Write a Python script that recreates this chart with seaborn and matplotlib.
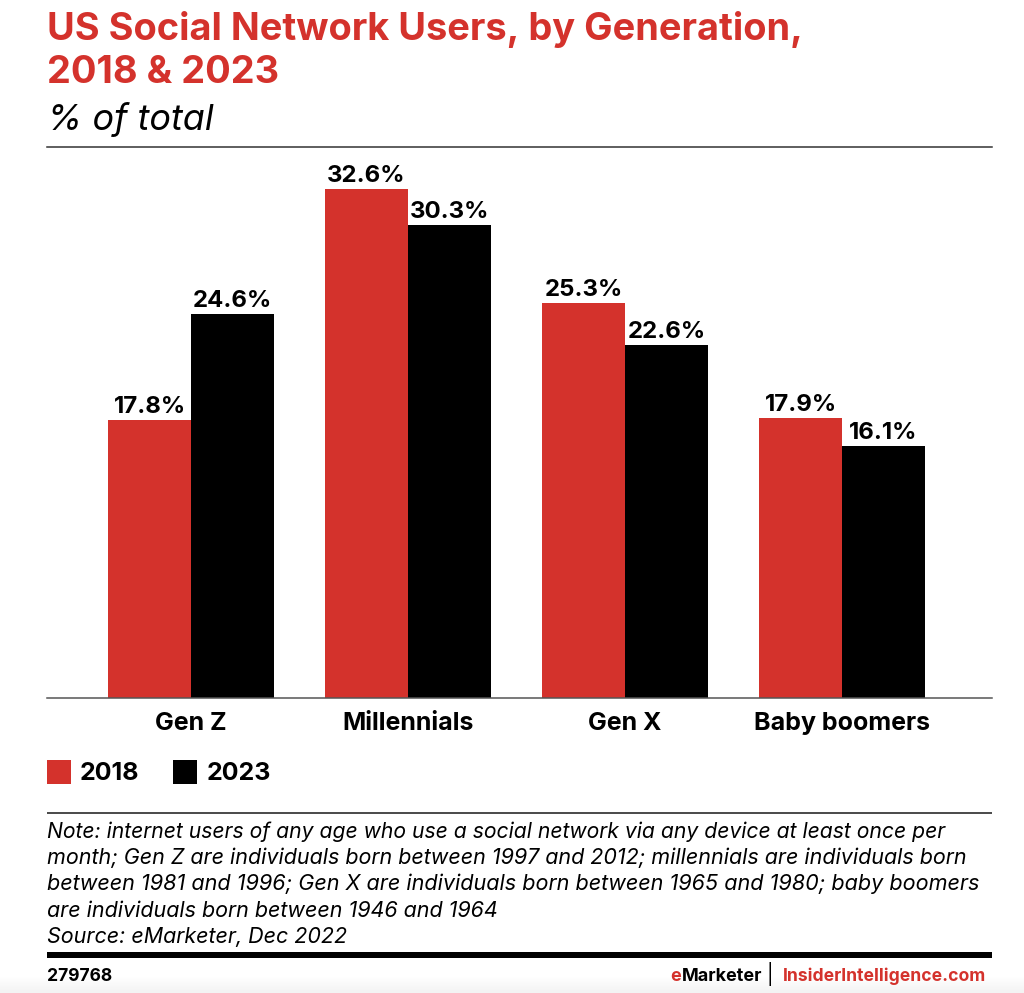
import numpy as np
import pandas as pd
import matplotlib
matplotlib.use('Agg')
import matplotlib.pyplot as plt
from matplotlib.lines import Line2D
import seaborn as sns

W, H = 1024, 993
RED = '#d4322c'

generations = ['Gen Z', 'Millennials', 'Gen X', 'Baby boomers']
values_2018 = [17.8, 32.6, 25.3, 17.9]
values_2023 = [24.6, 30.3, 22.6, 16.1]

title_lines = ['US Social Network Users, by Generation,', '2018 & 2023']
subtitle = '% of total'
note_lines = [
    'Note: internet users of any age who use a social network via any device at least once per',
    'month; Gen Z are individuals born between 1997 and 2012; millennials are individuals born',
    'between 1981 and 1996; Gen X are individuals born between 1965 and 1980; baby boomers',
    'are individuals born between 1946 and 1964',
    'Source: eMarketer, Dec 2022',
]
note_sizes = [21.15, 21.5, 21.6, 21.5, 21.5]

df = pd.DataFrame({
    'generation': generations * 2,
    'year': ['2018'] * 4 + ['2023'] * 4,
    'share': values_2018 + values_2023,
})

sns.set_theme(style='white')
plt.rcParams['font.family'] = ['Inter', 'DejaVu Sans']

fig = plt.figure(figsize=(W / 100, H / 100), dpi=100, facecolor='white')


def px(x, y):
    # pixel position in the picture -> figure fraction
    return x / W, 1 - y / H


def pt(size):
    return size * 0.72


def put(x, y, s, size, **kw):
    fx, fy = px(x, y)
    kw.setdefault('color', 'black')
    kw.setdefault('va', 'baseline')
    return fig.text(fx, fy, s, fontsize=pt(size), **kw)


def rule(y, lw, color='#222222', x0=47, x1=992):
    fig.add_artist(Line2D([x0 / W, x1 / W], [1 - y / H] * 2, color=color, lw=lw * 0.72,
                          solid_capstyle='butt'))


# faint grey fade along the bottom edge of the screenshot
bg = fig.add_axes([0, 0, 1, 18 / H], zorder=-1)
bg.imshow(np.linspace(1.0, 0.95, 18).reshape(-1, 1), cmap='gray', vmin=0, vmax=1, aspect='auto')
bg.axis('off')

ax = fig.add_axes([47 / W, 1 - 698 / H, 945 / W, 551 / H])
sns.barplot(data=df, x='generation', y='share', hue='year', order=generations,
            palette={'2018': RED, '2023': 'black'}, saturation=1, width=0.765, gap=0,
            linewidth=0, ax=ax)
ax.set_xlim(-0.6636, 3.691)
ax.set_ylim(0, 35.27)
ax.set_xlabel('')
ax.set_ylabel('')
ax.set_yticks([])
ax.tick_params(axis='x', length=0, pad=10)
for lab in ax.get_xticklabels():
    lab.set_fontsize(pt(25))
    lab.set_fontweight('bold')
    lab.set_color('black')

for side in ['left', 'right']:
    ax.spines[side].set_visible(False)
ax.spines['bottom'].set_color('#555555')
ax.spines['bottom'].set_linewidth(1.1)
ax.spines['top'].set_color('#333333')
ax.spines['top'].set_linewidth(1.1)

for cont in ax.containers:
    ax.bar_label(cont, fmt='%.1f%%', padding=1.5, fontsize=pt(24), fontweight='bold', color='black')

leg = ax.legend(loc='upper left', bbox_to_anchor=px(47, 760), bbox_transform=fig.transFigure,
                ncol=2, frameon=False, prop={'weight': 'bold', 'size': pt(25)},
                labelcolor='black', handlelength=0.96, handleheight=1.1, handletextpad=0.36,
                columnspacing=1.35, borderpad=0, borderaxespad=0)

for i, line in enumerate(title_lines):
    put(47, 40 + i * 43, line, 38, color=RED, fontweight='bold')
put(47, 130, subtitle, 36, style='italic')

rule(813, 1.6)
for i, line in enumerate(note_lines):
    put(47, 838 + i * 26.2, line, note_sizes[i], style='italic')

rule(955, 6, color='black')
put(47, 981, '279768', 17.5, fontweight='bold')
put(986, 981, 'InsiderIntelligence.com', 17.5, color=RED, fontweight='bold', ha='right')
put(770, 981, '|', 20, ha='center')
put(762, 981, 'Marketer', 18, fontweight='bold', ha='right')
put(670, 981, 'e', 18, color=RED, fontweight='bold')

fig.savefig('out.png', dpi=100)
